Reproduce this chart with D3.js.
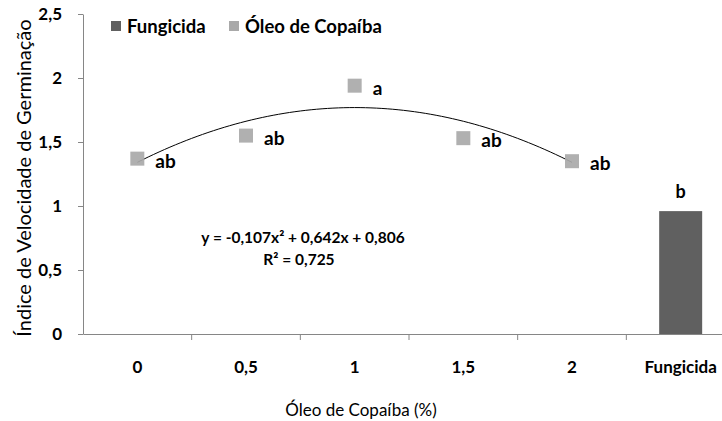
<!DOCTYPE html>
<html>
<head>
<meta charset="utf-8">
<script src="https://cdn.jsdelivr.net/npm/d3@7"></script>
<style>
  body { margin: 0; background: #fff; }
  svg text { font-family: Lato, "Open Sans", sans-serif; fill: #000; }
</style>
</head>
<body>
<svg id="chart" width="722" height="421"></svg>
<script>
// categories on the x axis
const categories = ["0", "0,5", "1", "1,5", "2", "Fungicida"];
// óleo de copaíba doses and their germination speed index
const oilDoses = ["0", "0,5", "1", "1,5", "2"];
const oilValues = [1.37, 1.55, 1.94, 1.53, 1.35];
const oilLetters = ["ab", "ab", "a", "ab", "ab"];
// fungicide bar
const fungCategory = "Fungicida";
const fungValue = 0.96;
const fungLetter = "b";
// polynomial trend (Excel, x = 1..5)
const trendCoef = [-0.107, 0.642, 0.806];
const trendLabel = "y = -0,107x² + 0,642x + 0,806";
const r2Label = "R² = 0,725";
const yTicks = [0, 0.5, 1, 1.5, 2, 2.5];

const svg = d3.select("#chart");
const plotLeft = 83, plotRight = 735, plotTop = 14, plotBottom = 334;

const x = d3.scaleBand().domain(categories).range([plotLeft, plotRight]).padding(0);
const y = d3.scaleLinear().domain([0, 2.5]).range([plotBottom, plotTop]);
const cx = d => x(d) + x.bandwidth() / 2;

const axisColor = "#868686";
const darkGray = "#606060", lightGray = "#A9A9A9";

// y axis
const yAxis = svg.append("g")
  .attr("transform", "translate(" + plotLeft + ",0)")
  .call(d3.axisLeft(y).tickValues(yTicks).tickSize(5).tickSizeOuter(0).tickPadding(16)
    .tickFormat(d => String(d).replace(".", ",")));
yAxis.select(".domain").attr("stroke", axisColor);
yAxis.selectAll(".tick line").attr("stroke", axisColor);
yAxis.selectAll("text").style("font-size", "17px").style("font-weight", "bold").attr("fill", "#000");

// x axis
const xAxis = svg.append("g")
  .attr("transform", "translate(0," + plotBottom + ")")
  .call(d3.axisBottom(x).tickSize(0).tickSizeOuter(0).tickPadding(27));
xAxis.select(".domain").attr("stroke", axisColor);
xAxis.selectAll("text").style("font-size", "17px").style("font-weight", "bold").attr("fill", "#000");

// tick marks between categories
svg.append("g").selectAll("line")
  .data(categories.slice(1))
  .join("line")
  .attr("x1", d => x(d)).attr("x2", d => x(d))
  .attr("y1", plotBottom).attr("y2", plotBottom + 6)
  .attr("stroke", axisColor);

// fungicide bar
const barW = 43;
svg.append("rect")
  .attr("x", cx(fungCategory) - barW / 2)
  .attr("y", y(fungValue))
  .attr("width", barW)
  .attr("height", y(0) - y(fungValue))
  .attr("fill", darkGray);
svg.append("text")
  .attr("x", cx(fungCategory))
  .attr("y", y(fungValue) - 13)
  .attr("text-anchor", "middle")
  .style("font-size", "18px").style("font-weight", "bold")
  .text(fungLetter);

// trend line
const tx = d3.scaleLinear().domain([1, 5]).range([cx(oilDoses[0]), cx(oilDoses[4])]);
const trendPts = d3.range(1, 5.001, 0.05).map(t => [t, trendCoef[0] * t * t + trendCoef[1] * t + trendCoef[2]]);
svg.append("path")
  .datum(trendPts)
  .attr("d", d3.line().x(d => tx(d[0])).y(d => y(d[1])))
  .attr("fill", "none")
  .attr("stroke", "#000")
  .attr("stroke-width", 1);

// oil markers
const mk = 14;
svg.append("g").selectAll("rect")
  .data(oilDoses)
  .join("rect")
  .attr("x", d => cx(d) - mk / 2)
  .attr("y", (d, i) => y(oilValues[i]) - mk / 2)
  .attr("width", mk).attr("height", mk)
  .attr("fill", lightGray)
  .attr("opacity", 0.92);

svg.append("g").selectAll("text")
  .data(oilDoses)
  .join("text")
  .attr("x", d => cx(d) + 18)
  .attr("y", (d, i) => y(oilValues[i]) + 9)
  .style("font-size", "19px").style("font-weight", "bold")
  .text((d, i) => oilLetters[i]);

// equation
svg.append("text")
  .attr("x", 303).attr("y", 243)
  .attr("text-anchor", "middle")
  .style("font-size", "15.5px").style("font-weight", "bold")
  .text(trendLabel);
svg.append("text")
  .attr("x", 299).attr("y", 265)
  .attr("text-anchor", "middle")
  .style("font-size", "15.5px").style("font-weight", "bold")
  .text(r2Label);

// axis titles
svg.append("text")
  .attr("transform", "translate(31,178) rotate(-90)")
  .attr("text-anchor", "middle")
  .style("font-size", "20px")
  .text("Índice de Velocidade de Germinação");
svg.append("text")
  .attr("x", 361).attr("y", 416)
  .attr("text-anchor", "middle")
  .style("font-size", "17px")
  .text("Óleo de Copaíba (%)");

// legend
const legend = [["Fungicida", darkGray, 111], ["Óleo de Copaíba", lightGray, 229]];
legend.forEach(l => {
  svg.append("rect").attr("x", l[2]).attr("y", 21).attr("width", 10).attr("height", 10).attr("fill", l[1]);
  svg.append("text").attr("x", l[2] + 16).attr("y", 33)
    .style("font-size", "18.5px").style("font-weight", "bold").text(l[0]);
});
</script>
</body>
</html>
